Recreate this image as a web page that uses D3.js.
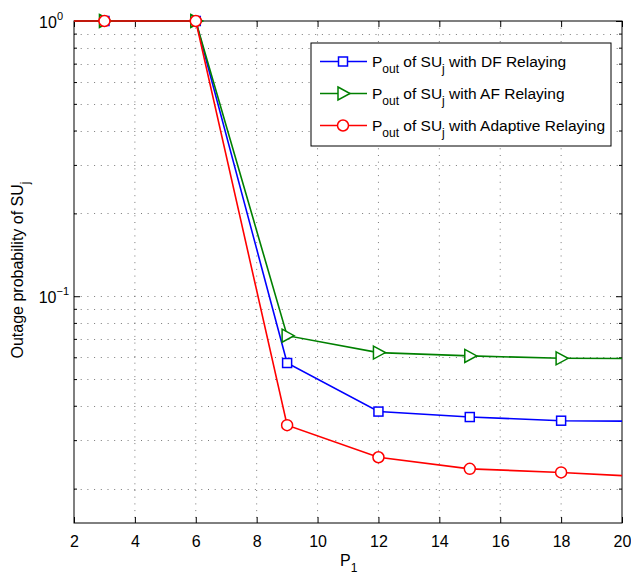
<!DOCTYPE html>
<html>
<head>
<meta charset="utf-8">
<script src="https://cdn.jsdelivr.net/npm/d3@7"></script>
<style>
body{margin:0;background:#fff;}
text{font-family:"Liberation Sans",Arial,sans-serif;fill:#000;}
</style>
</head>
<body>
<div id="chart-area"></div>
<script>
// P1 values (0 and 21 sit outside the axes and only carry the line to the edges)
var p1 = [0, 3, 6, 9, 12, 15, 18, 21];
var dfOut = [1, 1, 1, 0.0572, 0.0381, 0.0364, 0.0353, 0.0351];
var afOut = [1, 1, 1, 0.0719, 0.0624, 0.0607, 0.0595, 0.0593];
var adOut = [1, 1, 1, 0.0340, 0.0260, 0.0236, 0.0229, 0.0220];
var xTicks = [2, 4, 6, 8, 10, 12, 14, 16, 18, 20];
var yMajor = [0.1, 1];
var yMinor = [0.02, 0.03, 0.04, 0.05, 0.06, 0.07, 0.08, 0.09, 0.2, 0.3, 0.4, 0.5, 0.6, 0.7, 0.8, 0.9];
var seriesNames = ["DF Relaying", "AF Relaying", "Adaptive Relaying"];

var W = 631, H = 574;
var margin = {left: 74, right: 9, top: 21, bottom: 51};
var width = W - margin.left - margin.right;
var height = H - margin.top - margin.bottom;

var svg = d3.select("#chart-area").append("svg")
    .attr("width", W)
    .attr("height", H);
var g = svg.append("g")
    .attr("transform", "translate(" + margin.left + "," + margin.top + ")");

var x = d3.scaleLinear().domain([2, 20]).range([0, width]);
var y = d3.scaleLog().domain([0.015, 1]).range([height, 0]);

// dotted grid
var grid = g.append("g").attr("stroke", "#000").attr("stroke-width", 0.7)
    .attr("stroke-dasharray", "1,5.7").attr("opacity", 0.75);
grid.selectAll("line.v").data(xTicks.slice(1, -1)).enter().append("line")
    .attr("x1", d => x(d)).attr("x2", d => x(d))
    .attr("y1", 0).attr("y2", height);
grid.selectAll("line.h").data(yMajor.concat(yMinor).filter(d => d < 1)).enter().append("line")
    .attr("x1", 0).attr("x2", width)
    .attr("y1", d => Math.round(y(d)) + 0.5).attr("y2", d => Math.round(y(d)) + 0.5);

// axes box
g.append("rect").attr("width", width).attr("height", height)
    .attr("fill", "none").attr("stroke", "#000").attr("stroke-width", 1);

// ticks, drawn inward
var bottomAxis = d3.axisBottom(x).tickValues(xTicks).tickSizeInner(-6).tickSizeOuter(0).tickPadding(13);
g.append("g").attr("transform", "translate(0," + height + ")").call(bottomAxis)
    .call(a => a.select(".domain").remove())
    .selectAll("text").attr("font-size", "16px").attr("font-family", "Liberation Sans, Arial, sans-serif");
g.append("g").call(d3.axisTop(x).tickValues(xTicks).tickSizeInner(-6).tickSizeOuter(0).tickFormat(""))
    .call(a => a.select(".domain").remove());

var leftAxis = d3.axisLeft(y).tickValues(yMajor).tickSizeInner(-6).tickSizeOuter(0).tickFormat("");
g.append("g").call(leftAxis).call(a => a.select(".domain").remove());
g.append("g").call(d3.axisLeft(y).tickValues(yMinor).tickSizeInner(-3).tickSizeOuter(0).tickFormat(""))
    .call(a => a.select(".domain").remove());
g.append("g").attr("transform", "translate(" + width + ",0)")
    .call(d3.axisRight(y).tickValues(yMajor).tickSizeInner(-6).tickSizeOuter(0).tickFormat(""))
    .call(a => a.select(".domain").remove());
g.append("g").attr("transform", "translate(" + width + ",0)")
    .call(d3.axisRight(y).tickValues(yMinor).tickSizeInner(-3).tickSizeOuter(0).tickFormat(""))
    .call(a => a.select(".domain").remove());

// y tick labels 10^0, 10^-1
var yl = g.selectAll("text.ylab").data(yMajor).enter().append("text")
    .attr("class", "ylab")
    .attr("y", d => y(d) + 7)
    .attr("text-anchor", "end")
    .attr("font-size", "16px");
yl.append("tspan").text("10");
yl.append("tspan").attr("dy", -8).attr("font-size", "11px")
    .text(d => Math.round(Math.log10(d)) === 0 ? "0" : "\u22121");
yl.attr("x", d => d === 1 ? -11 : -5);

// clip horizontally only so markers on the top edge stay whole
svg.append("clipPath").attr("id", "clip").append("rect")
    .attr("x", 0).attr("y", -margin.top).attr("width", width).attr("height", H);

var colors = ["#0000ff", "#008000", "#ff0000"];
var allSeries = [dfOut, afOut, adOut];
var line = d3.line().x((d, i) => x(p1[i])).y(d => y(d));

function marker(sel, k) {
    if (k === 0) {
        sel.append("rect").attr("x", -4.5).attr("y", -4.5).attr("width", 9).attr("height", 9);
    } else if (k === 1) {
        sel.append("path").attr("d", "M-5,-6.5L7,0L-5,6.5Z");
    } else {
        sel.append("circle").attr("r", 5.5);
    }
    sel.attr("fill", "#fff").attr("stroke", colors[k]).attr("stroke-width", 1.5);
}

var plot = g.append("g").attr("clip-path", "url(#clip)");
allSeries.forEach((s, k) => {
    plot.append("path").datum(s)
        .attr("d", line)
        .attr("fill", "none")
        .attr("stroke", colors[k])
        .attr("stroke-width", 1.6);
    plot.selectAll("g.m" + k).data(s).enter().append("g")
        .attr("class", "m" + k)
        .attr("transform", (d, i) => "translate(" + x(p1[i]) + "," + y(d) + ")")
        .each(function() { marker(d3.select(this), k); });
});

// legend
var lg = svg.append("g").attr("transform", "translate(311,43)");
lg.append("rect").attr("width", 300).attr("height", 103)
    .attr("fill", "#fff").attr("stroke", "#000").attr("stroke-width", 1);
seriesNames.forEach((name, k) => {
    var row = lg.append("g").attr("transform", "translate(0," + (18.5 + k * 32) + ")");
    row.append("line").attr("x1", 9).attr("x2", 56).attr("y1", 0).attr("y2", 0)
        .attr("stroke", colors[k]).attr("stroke-width", 1.6);
    marker(row.append("g").attr("transform", "translate(32,0)"), k);
    var t = row.append("text").attr("x", 61).attr("y", 5).attr("font-size", "15.5px");
    t.append("tspan").text("P");
    t.append("tspan").attr("dy", 6).attr("font-size", "12px").text("out");
    t.append("tspan").attr("dy", -6).text(" of SU");
    t.append("tspan").attr("dy", 6).attr("font-size", "12px").text("j");
    t.append("tspan").attr("dy", -6).text(" with " + name);
});

// axis titles
var xt = svg.append("text").attr("x", 340).attr("y", 566).attr("font-size", "16px");
xt.append("tspan").text("P");
xt.append("tspan").attr("dy", 6).attr("font-size", "12px").text("1");

var ytl = svg.append("text")
    .attr("transform", "translate(23," + (margin.top + height / 2 - 2) + ") rotate(-90)")
    .attr("text-anchor", "middle").attr("font-size", "16px");
ytl.append("tspan").text("Outage probability of SU");
ytl.append("tspan").attr("dy", 6).attr("font-size", "12px").text("j");
</script>
</body>
</html>
